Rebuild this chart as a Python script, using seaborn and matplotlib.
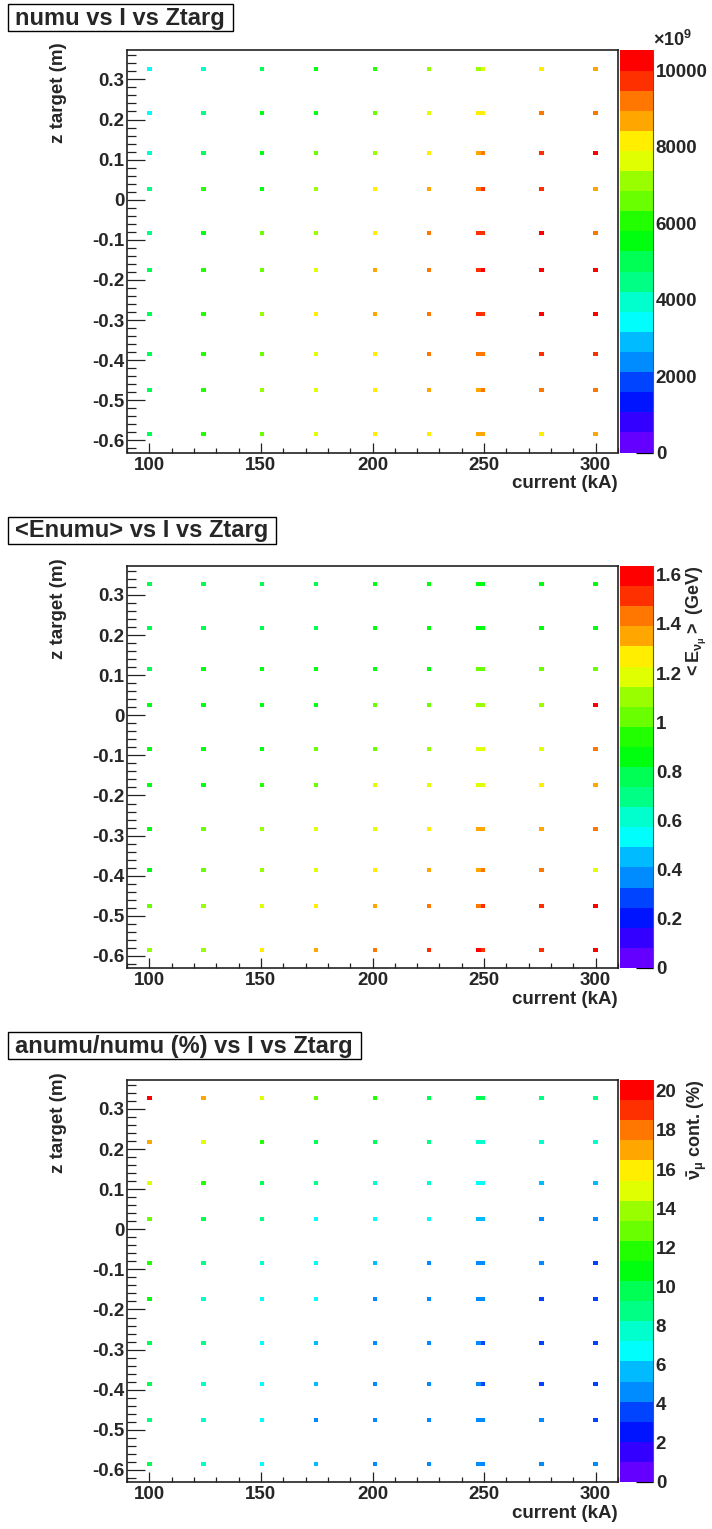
import colorsys
import numpy as np
import pandas as pd
import seaborn as sns
import matplotlib.pyplot as plt
from matplotlib.colors import ListedColormap
from matplotlib.patches import Rectangle
from matplotlib.ticker import MultipleLocator, FuncFormatter

sns.set_style("white")
plt.rcParams['font.family'] = ['Liberation Sans', 'DejaVu Sans']
plt.rcParams['font.weight'] = 'bold'
plt.rcParams['axes.unicode_minus'] = False
plt.rcParams['mathtext.fontset'] = 'custom'
plt.rcParams['mathtext.rm'] = 'Liberation Sans:bold'
plt.rcParams['mathtext.bf'] = 'Liberation Sans:bold'
plt.rcParams['mathtext.it'] = 'Liberation Sans:bold'

currents = [100, 125, 150, 175, 200, 225, 247, 250, 275, 300]
ztarg = [0.326, 0.216, 0.114, 0.024, -0.086, -0.176, -0.286, -0.388, -0.478, -0.588]

# numu yield (x1e9), one row per ztarg, one column per current
numu = [
    [3420, 3950, 4990, 5530, 6040, 7090, 7120, 7610, 8160, 8670],
    [3390, 4480, 5500, 5560, 6580, 7630, 8140, 8170, 9190, 9210],
    [3960, 5010, 5540, 6560, 7110, 8120, 8690, 9200, 9740, 10250],
    [4470, 6020, 5510, 7100, 8150, 8680, 9220, 9720, 9750, 8660],
    [4460, 5520, 6570, 7080, 8140, 9210, 9730, 9710, 10270, 9190],
    [4990, 6050, 6590, 7620, 8670, 9200, 9740, 10240, 10516, 10300],
    [5000, 6040, 7090, 8150, 8690, 9220, 9730, 9750, 10260, 10220],
    [4980, 6060, 6570, 7610, 8160, 9190, 9210, 9230, 9720, 9740],
    [4990, 6030, 7100, 7640, 8130, 8670, 8700, 9180, 9200, 9210],
    [5010, 6050, 6560, 7620, 8150, 8140, 8680, 8690, 8170, 8660],
]

# mean numu energy (GeV)
enumu = [
    [0.78, 0.79, 0.78, 0.80, 0.84, 0.85, 0.86, 0.86, 0.84, 0.85],
    [0.77, 0.78, 0.79, 0.80, 0.83, 0.85, 0.86, 0.87, 0.85, 0.86],
    [0.79, 0.83, 0.84, 0.85, 0.86, 0.87, 1.02, 1.03, 1.01, 1.02],
    [0.84, 0.85, 0.86, 0.87, 1.01, 1.03, 1.10, 1.11, 1.09, 1.636],
    [0.85, 0.86, 0.87, 1.02, 1.04, 1.10, 1.19, 1.20, 1.18, 1.43],
    [0.86, 0.87, 0.94, 1.03, 1.18, 1.19, 1.20, 1.21, 1.27, 1.35],
    [0.87, 1.02, 1.10, 1.19, 1.20, 1.27, 1.35, 1.36, 1.34, 1.44],
    [0.88, 1.03, 1.11, 1.20, 1.28, 1.34, 1.35, 1.43, 1.42, 1.19],
    [1.03, 1.11, 1.19, 1.28, 1.36, 1.43, 1.44, 1.51, 1.52, 1.59],
    [1.10, 1.12, 1.27, 1.35, 1.44, 1.52, 1.60, 1.53, 1.51, 1.58],
]

# anumu/numu contamination (%)
anumu = [
    [20.55, 16.9, 14.9, 12.8, 11.8, 9.8, 9.7, 9.6, 8.7, 8.6],
    [16.9, 14.8, 11.8, 9.8, 9.6, 8.8, 7.7, 7.6, 7.7, 7.5],
    [14.9, 11.9, 9.7, 8.7, 7.8, 7.6, 6.7, 6.6, 5.7, 5.6],
    [12.9, 9.8, 8.7, 6.8, 6.7, 6.5, 5.7, 5.6, 4.7, 4.6],
    [11.8, 8.8, 7.7, 6.6, 5.6, 4.8, 4.7, 4.6, 4.5, 3.9],
    [10.9, 7.8, 6.8, 6.6, 4.8, 4.7, 4.9, 4.6, 3.8, 3.7],
    [9.8, 8.7, 6.7, 5.6, 4.7, 4.6, 4.8, 4.0, 3.8, 3.7],
    [9.9, 7.8, 6.6, 5.5, 4.7, 4.6, 4.5, 3.9, 3.8, 3.6],
    [8.8, 7.7, 6.7, 4.9, 4.8, 4.7, 4.9, 4.8, 4.6, 4.0],
    [9.7, 7.6, 6.8, 5.6, 4.8, 4.7, 4.8, 4.7, 4.6, 4.5],
]

titles = ["numu vs I vs Ztarg", "<Enumu> vs I vs Ztarg", "anumu/numu (%) vs I vs Ztarg"]
zmax = [10516, 1.636, 20.55]
zstep = [2000, 0.2, 2]
zlabels = ["", r"$<E_{\nu_{\mu}}>$ (GeV)", r"$\bar{\nu}_{\mu}$ cont. (%)"]

# ROOT "pretty" palette, 20 contour levels
cmap = ListedColormap([colorsys.hls_to_rgb((280 - (int((k + 0.99) * 2.5) + 1) * 5.6) / 360, 0.5, 1)
                       for k in range(20)])

W, H = 712, 1529
fig = plt.figure(figsize=(W / 100, H / 100), dpi=100)
renderer = fig.canvas.get_renderer()

def gfmt(v, pos):
    return f"{round(v, 6) + 0:g}"

tops = [50.5, 566, 1080]
boxes = [4, 517, 1032]
for i in range(3):
    top = tops[i]
    ax = fig.add_axes([127 / W, 1 - (top + 402) / H, 491 / W, 402 / H])
    cax = fig.add_axes([620 / W, 1 - (top + 402) / H, 33 / W, 402 / H])

    vals = [numu, enumu, anumu][i]
    rows = [(c, z, v) for z, row in zip(ztarg, vals) for c, v in zip(currents, row)]
    df = pd.DataFrame(rows, columns=["I", "z", "v"])
    sns.histplot(df, x="I", y="z", weights="v", bins=(100, 100),
                 binrange=((90, 310), (-0.63, 0.372)), cmap=cmap,
                 vmin=0, vmax=zmax[i], ax=ax, cbar=True, cbar_ax=cax)
    ax.set_xlim(90, 310)
    ax.set_ylim(-0.63, 0.372)

    for s in ax.spines.values():
        s.set_visible(True)
        s.set_color("#222222")
        s.set_linewidth(1.2)
    ax.xaxis.set_major_locator(MultipleLocator(50))
    ax.xaxis.set_minor_locator(MultipleLocator(10))
    ax.yaxis.set_major_locator(MultipleLocator(0.1))
    ax.yaxis.set_minor_locator(MultipleLocator(0.02))
    ax.yaxis.set_major_formatter(FuncFormatter(gfmt))
    ax.tick_params(axis="both", which="both", direction="in", color="#222222",
                   width=0.9, labelsize=13.5, top=False, right=False,
                   left=True, bottom=True)
    ax.tick_params(axis="y", which="major", length=13, pad=2)
    ax.tick_params(axis="y", which="minor", length=6.5)
    ax.tick_params(axis="x", which="major", length=7, pad=3)
    ax.tick_params(axis="x", which="minor", length=3.6)

    ax.set_xlabel("current (kA)", loc="right", fontsize=13.5, fontweight="bold")
    ax.xaxis.set_label_coords(1.0, -0.057)
    ax.set_ylabel("z target (m)", loc="top", fontsize=13.5, fontweight="bold")
    ax.yaxis.set_label_coords(-0.122, 1.02)

    cax.yaxis.set_major_locator(MultipleLocator(zstep[i]))
    cax.yaxis.set_major_formatter(FuncFormatter(gfmt))
    cax.yaxis.set_minor_locator(plt.NullLocator())
    cax.tick_params(axis="y", which="major", direction="in", length=12, width=0.9,
                    color="black", labelsize=13.5, pad=2, right=True, left=False)
    for s in cax.spines.values():
        s.set_visible(False)
    cax.spines["right"].set_visible(True)
    cax.spines["right"].set_color("#555555")
    cax.spines["right"].set_linewidth(0.8)
    if zlabels[i]:
        cax.set_ylabel(zlabels[i], loc="top", fontsize=13, fontweight="bold")
        cax.yaxis.set_label_position("right")
        cax.yaxis.set_label_coords(1.98, 1.0)

    # title box (TPaveText style)
    t = fig.text(15 / W, 1 - (boxes[i] + 14) / H, titles[i], fontsize=17,
                 fontweight="bold", ha="left", va="center")
    bb = t.get_window_extent(renderer)
    fig.patches.append(Rectangle((8 / W, 1 - (boxes[i] + 27) / H),
                                 (bb.x1 + 8) / W - 8 / W, 27 / H,
                                 transform=fig.transFigure, fc="white",
                                 ec="black", lw=1, zorder=-1))

fig.text(653 / W, 1 - 50 / H, r"$\times$10$^{9}$", fontsize=13, ha="left", va="bottom")

fig.savefig("out.png", dpi=100)
